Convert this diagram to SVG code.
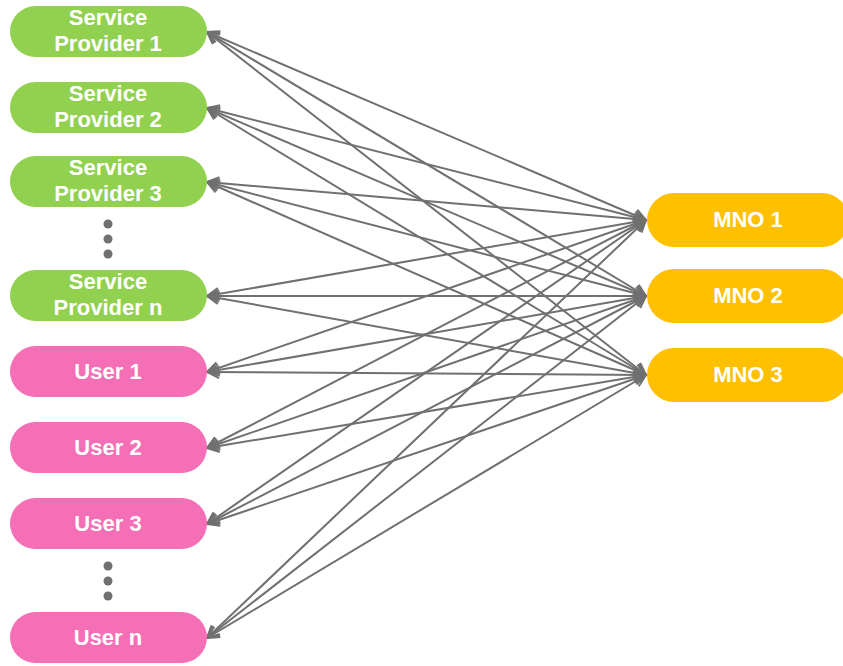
<svg xmlns="http://www.w3.org/2000/svg" width="843" height="666" viewBox="0 0 843 666">
  <style>
    .sp { fill: #92D050; }
    .user { fill: #F46FB6; }
    .mno { fill: #FFC000; }
    .label { font-family: "Liberation Sans", Arial, sans-serif; font-weight: bold; font-size: 22px; fill: #FFFFFF; text-anchor: middle; }
    .link { stroke: #707070; stroke-width: 2; fill: none; marker-start: url(#chev); marker-end: url(#chev); }
    .dot { fill: #707070; }
  </style>
  <defs>
    <marker id="chev" viewBox="0 0 14 14" refX="13" refY="7" markerWidth="14" markerHeight="14" markerUnits="userSpaceOnUse" orient="auto-start-reverse">
      <path d="M1,1 L13,7 L1,13" fill="none" stroke="#707070" stroke-width="2"/>
    </marker>
  </defs>

  <!-- connectors: every party linked to every MNO -->
  <g id="connectors">
    <line class="link" x1="207" y1="32" x2="646" y2="220"/>
    <line class="link" x1="207" y1="32" x2="646" y2="296"/>
    <line class="link" x1="207" y1="32" x2="646" y2="375"/>
    <line class="link" x1="207" y1="108" x2="646" y2="220"/>
    <line class="link" x1="207" y1="108" x2="646" y2="296"/>
    <line class="link" x1="207" y1="108" x2="646" y2="375"/>
    <line class="link" x1="207" y1="182" x2="646" y2="220"/>
    <line class="link" x1="207" y1="182" x2="646" y2="296"/>
    <line class="link" x1="207" y1="182" x2="646" y2="375"/>
    <line class="link" x1="207" y1="296" x2="646" y2="220"/>
    <line class="link" x1="207" y1="296" x2="646" y2="296"/>
    <line class="link" x1="207" y1="296" x2="646" y2="375"/>
    <line class="link" x1="207" y1="372" x2="646" y2="220"/>
    <line class="link" x1="207" y1="372" x2="646" y2="296"/>
    <line class="link" x1="207" y1="372" x2="646" y2="375"/>
    <line class="link" x1="207" y1="448" x2="646" y2="220"/>
    <line class="link" x1="207" y1="448" x2="646" y2="296"/>
    <line class="link" x1="207" y1="448" x2="646" y2="375"/>
    <line class="link" x1="207" y1="524" x2="646" y2="220"/>
    <line class="link" x1="207" y1="524" x2="646" y2="296"/>
    <line class="link" x1="207" y1="524" x2="646" y2="375"/>
    <line class="link" x1="207" y1="638" x2="646" y2="220"/>
    <line class="link" x1="207" y1="638" x2="646" y2="296"/>
    <line class="link" x1="207" y1="638" x2="646" y2="375"/>
  </g>

  <!-- service providers -->
  <g id="sp1">
    <rect class="sp" x="10" y="6" width="197" height="51" rx="25.5"/>
    <text class="label" x="108" y="25">Service</text>
    <text class="label" x="108" y="51">Provider 1</text>
  </g>
  <g id="sp2">
    <rect class="sp" x="10" y="82" width="197" height="51" rx="25.5"/>
    <text class="label" x="108" y="101">Service</text>
    <text class="label" x="108" y="127">Provider 2</text>
  </g>
  <g id="sp3">
    <rect class="sp" x="10" y="156" width="197" height="51" rx="25.5"/>
    <text class="label" x="108" y="175">Service</text>
    <text class="label" x="108" y="201">Provider 3</text>
  </g>
  <g id="sp-dots">
    <circle class="dot" cx="108" cy="224" r="4.5"/>
    <circle class="dot" cx="108" cy="239" r="4.5"/>
    <circle class="dot" cx="108" cy="254" r="4.5"/>
  </g>
  <g id="spn">
    <rect class="sp" x="10" y="270" width="197" height="51" rx="25.5"/>
    <text class="label" x="108" y="289">Service</text>
    <text class="label" x="108" y="315">Provider n</text>
  </g>

  <!-- users -->
  <g id="user1">
    <rect class="user" x="10" y="346" width="197" height="51" rx="25.5"/>
    <text class="label" x="108" y="379">User 1</text>
  </g>
  <g id="user2">
    <rect class="user" x="10" y="422" width="197" height="51" rx="25.5"/>
    <text class="label" x="108" y="455">User 2</text>
  </g>
  <g id="user3">
    <rect class="user" x="10" y="498" width="197" height="51" rx="25.5"/>
    <text class="label" x="108" y="531">User 3</text>
  </g>
  <g id="user-dots">
    <circle class="dot" cx="108" cy="566" r="4.5"/>
    <circle class="dot" cx="108" cy="581" r="4.5"/>
    <circle class="dot" cx="108" cy="596" r="4.5"/>
  </g>
  <g id="usern">
    <rect class="user" x="10" y="612" width="197" height="51" rx="25.5"/>
    <text class="label" x="108" y="645">User n</text>
  </g>

  <!-- mobile network operators -->
  <g id="mno1">
    <rect class="mno" x="647" y="193" width="202" height="54" rx="27"/>
    <text class="label" x="748" y="227">MNO 1</text>
  </g>
  <g id="mno2">
    <rect class="mno" x="647" y="269" width="202" height="54" rx="27"/>
    <text class="label" x="748" y="303">MNO 2</text>
  </g>
  <g id="mno3">
    <rect class="mno" x="647" y="348" width="202" height="54" rx="27"/>
    <text class="label" x="748" y="382">MNO 3</text>
  </g>
</svg>
